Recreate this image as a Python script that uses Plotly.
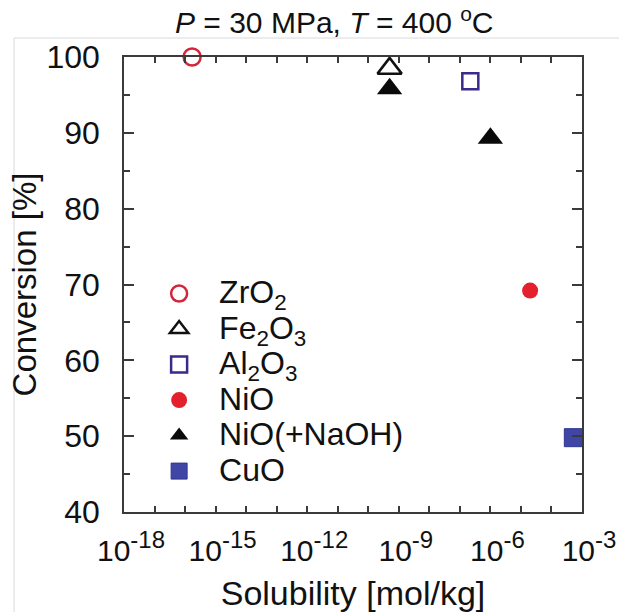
import plotly.graph_objects as go

# Solubility [mol/kg] and conversion [%] of each oxide at 30 MPa, 400 °C
zro2_sol = [1.7e-16]
zro2_conv = [100.0]

fe2o3_sol = [5.0e-10]
fe2o3_conv = [98.5]

al2o3_sol = [2.2e-7]
al2o3_conv = [96.8]

nio_sol = [2.0e-5]
nio_conv = [69.2]

nio_naoh_sol = [5.0e-10, 1.0e-6]
nio_naoh_conv = [95.8, 89.3]

cuo_sol = [5.2e-4]
cuo_conv = [49.8]

# decade ticks on the x axis, labelled every third decade
x_exponents = list(range(-18, -2))
x_tickvals = [10.0 ** e for e in x_exponents]
x_ticktext = [
    f'10<sup><span style="font-size:24px">{e}</span></sup>' if e % 3 == 0 else ""
    for e in x_exponents
]

FONT = "Liberation Sans, Arial, Helvetica, sans-serif"
AXIS_COLOR = "#3a3a3a"


def legend_name(text):
    # legend rows keep the legend's line spacing while the label is set larger
    return f'<span style="font-size:32px">{text}</span>'


fig = go.Figure()

fig.add_trace(go.Scatter(
    x=zro2_sol, y=zro2_conv, mode="markers", name=legend_name("ZrO<sub>2</sub>"),
    marker=dict(symbol="circle-open", size=17, color="#d3263a", line=dict(width=2.5)),
    cliponaxis=False,
))
fig.add_trace(go.Scatter(
    x=fe2o3_sol, y=fe2o3_conv, mode="markers", name=legend_name("Fe<sub>2</sub>O<sub>3</sub>"),
    marker=dict(symbol="triangle-up-open", size=21, color="#111111", line=dict(width=2.5)),
    cliponaxis=False,
))
fig.add_trace(go.Scatter(
    x=al2o3_sol, y=al2o3_conv, mode="markers", name=legend_name("Al<sub>2</sub>O<sub>3</sub>"),
    marker=dict(symbol="square-open", size=16, color="#3b2a8c", line=dict(width=2.5)),
    cliponaxis=False,
))
fig.add_trace(go.Scatter(
    x=nio_sol, y=nio_conv, mode="markers", name=legend_name("NiO"),
    marker=dict(symbol="circle", size=16, color="#e3202c", line=dict(width=0)),
    cliponaxis=False,
))
fig.add_trace(go.Scatter(
    x=nio_naoh_sol, y=nio_naoh_conv, mode="markers", name=legend_name("NiO(+NaOH)"),
    marker=dict(symbol="triangle-up", size=22, color="#0a0a0a", line=dict(width=0)),
    cliponaxis=False,
))
fig.add_trace(go.Scatter(
    x=cuo_sol, y=cuo_conv, mode="markers", name=legend_name("CuO"),
    marker=dict(symbol="square", size=18, color="#3f46a6",
                line=dict(width=1, color="#2f3690")),
    cliponaxis=False,
))

fig.update_layout(
    width=619, height=612,
    margin=dict(l=124, r=37, t=57, b=100, autoexpand=False),
    paper_bgcolor="white", plot_bgcolor="white",
    font=dict(family=FONT, color="#111111", size=29),
    title=dict(
        text="<i>P</i> = 30 MPa, <i>T</i> = 400 <sup>o</sup>C",
        x=0.54, xref="container", xanchor="center",
        y=0.963, yref="container", yanchor="middle",
        font=dict(size=30),
        automargin=False,
    ),
    showlegend=True,
    legend=dict(
        x=0.033, xanchor="left", y=0.53, yanchor="top",
        bgcolor="rgba(0,0,0,0)", borderwidth=0,
        font=dict(size=25), tracegroupgap=0,
        itemsizing="trace", itemwidth=70,
    ),
    shapes=[
        dict(type="line", xref="paper", yref="paper", x0=-0.24, x1=1.1, y0=1.042, y1=1.042,
             line=dict(color="#e6e6e6", width=1.5)),
        dict(type="line", xref="paper", yref="paper", x0=-0.24, x1=-0.24, y0=-0.22, y1=1.042,
             line=dict(color="#e6e6e6", width=1.5)),
    ],
)

fig.update_xaxes(
    type="log", range=[-18, -3], automargin=False,
    tickmode="array", tickvals=x_tickvals, ticktext=x_ticktext,
    tickfont=dict(size=30),
    ticks="inside", ticklen=6, tickwidth=1.5, tickcolor=AXIS_COLOR,
    showline=True, linecolor=AXIS_COLOR, linewidth=1.5, mirror="ticks",
    showgrid=False, zeroline=False,
    ticklabelstandoff=11, ticklabelshift=7,
    title=dict(text="Solubility [mol/kg]", standoff=22, font=dict(size=34)),
)
fig.update_yaxes(
    range=[40, 100], dtick=10, automargin=False,
    tickfont=dict(size=32),
    ticks="inside", ticklen=10, tickwidth=1.5, tickcolor=AXIS_COLOR,
    minor=dict(dtick=5, ticks="inside", ticklen=6, tickwidth=1.5, tickcolor=AXIS_COLOR),
    showline=True, linecolor=AXIS_COLOR, linewidth=1.5, mirror="ticks",
    showgrid=False, zeroline=False,
    ticklabelstandoff=16,
    title=dict(text="Conversion [%]", standoff=0, font=dict(size=33)),
)

fig.write_html("out.html")
